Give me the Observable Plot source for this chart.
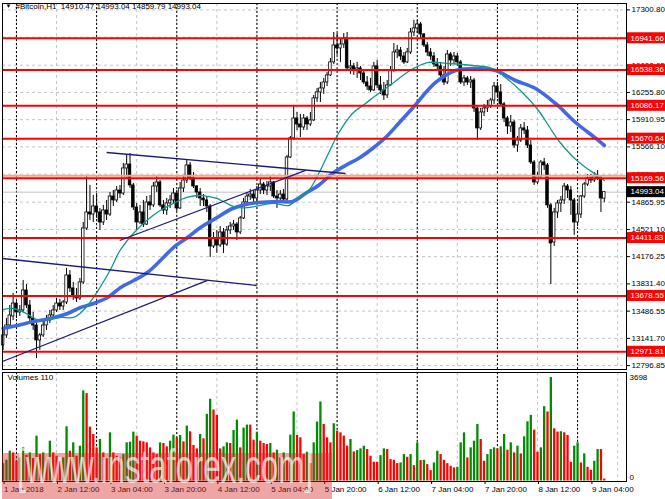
<!DOCTYPE html>
<html><head><meta charset="utf-8">
<script src="https://cdn.jsdelivr.net/npm/d3@7"></script>
<script src="https://cdn.jsdelivr.net/npm/@observablehq/plot@0.6"></script>
<style>
html,body{margin:0;padding:0;background:#fff;}
#wrap{width:665px;height:499px;overflow:hidden;position:relative;}
svg{display:block;}
</style></head><body><div id="wrap"></div>
<script>
// ---------- DATA ----------
const symbolName = "#Bitcoin,H1";
const startTimeUTC = "2018-01-01T20:00:00Z"; // first visible H1 bar
const opens = [13052,13179,13305,13419,13583,13470,13495,13748,13558,13394,13305,13115,13179,13305,13368,13432,13495,13583,13545,13596,13938,13774,13672,13647,13850,14533,14736,14710,14812,14736,14609,14761,14710,14938,14888,15014,14976,15293,15343,15078,14799,14609,14736,14583,14863,14825,15065,15116,14825,14761,14850,14888,14976,14787,15040,15141,15331,15167,15065,14989,14913,14888,14812,14305,14407,14318,14483,14330,14508,14558,14583,14483,14660,14863,14938,14963,14913,15014,15090,15014,15065,15116,14938,14913,14963,14900,15432,15673,15926,15850,15812,15926,15850,15901,16180,16256,16306,16382,16471,16636,16851,16813,16863,16939,16560,16585,16534,16560,16496,16382,16331,16281,16585,16344,16281,16218,16344,16534,16762,16787,16711,16636,16762,17015,17066,17116,16990,16851,16762,16711,16610,16585,16471,16382,16736,16661,16711,16636,16382,16433,16382,16407,16053,15800,16002,16053,16078,16154,16331,16256,16104,15926,15825,15875,15584,15647,15800,15774,15584,15369,15116,15192,15369,15331,14825,14356,14736,14850,14888,15065,15014,14888,14609,14710,14938,15090,15167,15141,15192,15167,14910.47];
const highs = [13242,13394,13558,13710,13621,13558,13875,13824,13621,13470,13343,13204,13368,13432,13495,13558,13647,13634,13621,14027,14001,13850,13774,13900,14609,15192,15078,14951,14976,14787,14825,14888,14989,15014,15065,15078,15356,15458,15483,15103,14850,14825,14888,14938,14951,15116,15192,15141,14888,14913,14951,15040,15014,15116,15205,15394,15369,15243,15078,15040,14963,14938,14837,14483,14508,14558,14533,14558,14609,14634,14609,14685,14913,14989,15027,15014,15065,15167,15116,15128,15205,15128,15014,15014,15027,15458,15698,16091,16002,15976,15976,15951,16002,16218,16306,16382,16433,16509,16686,17015,17002,16939,17002,17015,16661,16623,16636,16585,16534,16458,16433,16636,16661,16458,16382,16407,16585,16876,16851,16825,16762,16813,17066,17167,17167,17142,17002,16889,16813,16762,16686,16636,16585,16787,16762,16762,16749,16661,16471,16458,16458,16433,16078,16053,16104,16154,16180,16382,16382,16356,16129,15951,15964,15901,15698,15850,15875,15825,15647,15394,15243,15394,15420,15356,14850,14787,14888,14938,15103,15090,15065,14913,14825,14951,15116,15217,15217,15243,15268,15192,14993.04];
const lows = [12988,13141,13267,13368,13394,13419,13470,13520,13343,13242,12887,12988,13153,13242,13330,13394,13470,13495,13495,13570,13723,13621,13596,13621,13824,14508,14634,14609,14660,14508,14571,14634,14685,14812,14863,14913,14951,15167,15040,14761,14508,14583,14545,14571,14761,14799,14989,14799,14710,14698,14787,14837,14748,14774,14989,15103,15141,15040,14913,14812,14812,14736,14166,14280,14217,14292,14217,14305,14457,14508,14381,14457,14647,14837,14888,14837,14875,14963,14963,14951,15001,14913,14787,14888,14863,14863,15420,15647,15774,15685,15774,15774,15825,15888,16129,16129,16230,16331,16458,16610,16724,16636,16813,16534,16483,16471,16433,16407,16356,16281,16256,16268,16306,16230,16154,16180,16331,16509,16686,16661,16610,16623,16736,16964,17002,16939,16825,16711,16661,16572,16534,16445,16344,16356,16585,16610,16585,16356,16331,16344,16306,16002,15647,15774,15951,16002,16053,16104,16180,16078,15875,15723,15749,15546,15496,15622,15723,15546,15343,15078,15090,15167,15268,14787,13824,14305,14660,14736,14837,14913,14698,14445,14558,14660,14913,15065,15103,15116,15141,14736,14859.79];
const closes = [13179,13305,13432,13583,13470,13495,13748,13558,13394,13305,13115,13179,13305,13368,13432,13495,13583,13545,13596,13938,13774,13672,13647,13850,14533,14736,14710,14812,14736,14609,14761,14710,14938,14888,15014,14976,15293,15343,15078,14799,14609,14736,14583,14863,14825,15065,15116,14825,14761,14850,14888,14976,14787,15040,15141,15331,15167,15065,14989,14913,14888,14812,14305,14407,14318,14483,14330,14508,14558,14583,14483,14660,14863,14938,14963,14913,15014,15090,15014,15065,15116,14938,14913,14963,14900,15432,15673,15926,15850,15812,15926,15850,15901,16180,16256,16306,16382,16471,16636,16851,16813,16863,16939,16560,16585,16534,16560,16496,16382,16331,16281,16585,16344,16281,16218,16344,16534,16762,16787,16711,16636,16762,17015,17066,17116,16990,16851,16762,16711,16610,16585,16471,16382,16736,16661,16711,16636,16382,16433,16382,16407,16053,15800,16002,16053,16078,16154,16331,16256,16104,15926,15825,15875,15584,15647,15800,15774,15584,15369,15116,15192,15369,15331,14825,14343,14736,14850,14888,15065,15014,14888,14609,14710,14938,15090,15167,15141,15192,15167,14913,14993.04];
const volumes = [621,741,1064,1004,705,825,1184,920,1004,801,1603,944,1004,825,1423,1004,885,705,825,1938,1064,1363,885,1244,3219,3123,1926,1663,1184,1483,1004,789,1722,1004,885,825,944,1363,1387,1746,1603,1423,1399,1363,1184,1004,944,1363,1339,1220,1423,1639,1543,1627,1399,1962,1758,1268,1148,1663,1507,2381,2919,2536,2345,1148,1220,1363,1339,1806,2177,1184,1890,1998,1998,1459,1746,1423,1339,1303,1339,1004,1100,825,1004,741,1639,2465,1627,1543,944,1028,621,1363,2105,2824,2022,1543,1363,2046,1782,1722,1603,1244,1483,1040,1088,1148,1244,1124,885,669,669,908,1148,1124,765,741,621,645,944,849,944,549,1363,729,741,585,370,645,1064,944,741,621,525,466,490,1363,1722,825,1184,1423,2022,1483,705,944,1124,1184,1148,1220,1663,1100,1363,1004,1244,968,1579,2117,2345,1818,1028,1184,2656,2465,3697,1866,1746,1760,1722,1627,669,1244,1363,645,968,490,382,705,1124,1124,70];
const volumeMax = 3698;
const volumesLabel = "Volumes 110";

// moving averages (hours from first bar, price)
const maFastHours  = [0,3,7,10,13,17,21,23,26,29,32,35,39,43,47,51,55,59,61.5,64,67,70,73.5,81,85.5,88.5,91.5,94.5,97.4,100.4,104.6,108.5,112.4,116.6,120.5,123.5,127.4,133.4,140.5,146.5,150.4,155.5,160.3,163.3,166.3,170.5,174.4,178,180];
const maFastValues = [13507,13520,13456,13381,13381,13406,13406,13456,13596,13786,14001,14254,14470,14634,14761,14850,14926,14951,14938,14913,14850,14799,14799,14850,14824,14926,15014,15229,15483,15736,15989,16116,16243,16369,16496,16572,16635,16622,16597,16559,16445,16255,16027,15837,15647,15445,15305,15204,15141];
const maSlowHours  = [0,4.3,9.1,14.2,19.3,23.2,27.1,31.3,35.2,39.1,43.2,47.1,51,55.2,59.1,63.6,68.7,72.6,76.5,82.5,86.7,90.5,94.4,98.6,102.5,106.4,110.6,114.5,118.4,122.5,129.5,135.5,141.4,147.4,153.4,159.4,165.4,171.4,177.5,180];
const maSlowValues = [13267,13305,13355,13393,13456,13532,13583,13659,13786,13874,13976,14128,14292,14419,14546,14660,14786,14837,14862,14875,14875,14976,15077,15229,15331,15419,15546,15685,15862,16052,16382,16534,16559,16534,16407,16306,16116,15875,15673,15584];

// trend lines (hours from first bar, price)
const trendStartHours  = [31, 34.9, -0.2, -0.2];
const trendStartPrices = [15495, 14381, 14153, 12849];
const trendEndHours    = [102.5, 90.6, 75.9, 61.2];
const trendEndPrices   = [15229, 15268, 13811, 13875];

// horizontal levels
const levels = [16941.66, 16538.36, 16086.17, 15670.64, 15169.56, 14411.83, 13678.55, 12971.81];
const salmonLevel = 15200;

// axis ticks (grid at all; the one hidden under the 16941.66 tag carries no label)
const priceTicks = [17300.80, 16955.95, 16600.65, 16255.80, 15910.95, 15566.10, 15221.35, 14865.95, 14521.10, 14176.25, 13831.40, 13486.55, 13141.70, 12796.85];
const priceTickLabelled = [17300.80, 16600.65, 16255.80, 15910.95, 15566.10, 15221.35, 14865.95, 14521.10, 14176.25, 13831.40, 13486.55, 13141.70, 12796.85];
const timeTickHours = [0,16,32,48,64,80,96,112,128,144,160,176];
const timeTickLabels = ["1 Jan 2018","2 Jan 12:00","3 Jan 04:00","3 Jan 20:00","4 Jan 12:00","5 Jan 04:00","5 Jan 20:00","6 Jan 12:00","7 Jan 04:00","7 Jan 20:00","8 Jan 12:00","9 Jan 04:00"];
const gridHours = [4,16,28,40,52,64,76,88,100,112,124,136,148,160,172,184];
const separatorHours = [4,28,52,76,100,124,148,172];
const watermarkText = "[www.instaforex.com]";

// ---------- BUILD ----------
const H = 3600e3;
const t0 = Date.parse(startTimeUTC);
const T = h => new Date(t0 + h * H);
const bars = opens.map((o, i) => ({date: T(i), open: o, high: highs[i], low: lows[i], close: closes[i], volume: volumes[i],
  up: i === 0 ? true : volumes[i] > volumes[i - 1]}));
const maFast = maFastHours.map((h, i) => ({date: T(h), value: maFastValues[i]}));
const maSlow = maSlowHours.map((h, i) => ({date: T(h), value: maSlowValues[i]}));
const trends = trendStartHours.map((h, i) => ({x1: T(h), y1: trendStartPrices[i], x2: T(trendEndHours[i]), y2: trendEndPrices[i]}));
const xDomain = [T(-0.18), T(186.65)];
const last = bars[bars.length - 1];
const FONT = "'Liberation Sans', Arial, sans-serif";
const labelByTime = new Map(timeTickHours.map((h, i) => [+T(h), timeTickLabels[i]]));

const main = Plot.plot({
  width: 665, height: 370,
  marginLeft: 2, marginRight: 39, marginTop: 3, marginBottom: 1,
  style: {fontFamily: FONT, fontSize: "8px", background: "white", overflow: "visible"},
  x: {type: "utc", domain: xDomain, axis: null},
  y: {domain: [12796.85, 17300.80], range: [365.1, 9.4], axis: null},
  marks: [
    Plot.ruleY(priceTicks, {stroke: "#c4c4c4", strokeDasharray: "3,3"}),
    Plot.ruleX(gridHours.map(T), {stroke: "#c4c4c4", strokeDasharray: "3,3"}),
    Plot.ruleX(separatorHours.map(T), {stroke: "#000", strokeDasharray: "2,2"}),
    Plot.ruleY([last.close], {stroke: "#c0c0c0"}),
    Plot.ruleX(bars, {x: "date", y1: "low", y2: "high", stroke: "#000", strokeWidth: 1}),
    Plot.rect(bars.filter(d => d.close >= d.open), {x1: d => new Date(+d.date - 0.38 * H), x2: d => new Date(+d.date + 0.38 * H), y1: "open", y2: "close", fill: "white", stroke: "black", strokeWidth: 0.8}),
    Plot.rect(bars.filter(d => d.close < d.open), {x1: d => new Date(+d.date - 0.38 * H), x2: d => new Date(+d.date + 0.38 * H), y1: "open", y2: "close", fill: "black", stroke: "black", strokeWidth: 0.8}),
    Plot.line(maSlow, {x: "date", y: "value", stroke: "#4169e1", strokeWidth: 3.6, curve: "catmull-rom"}),
    Plot.line(maFast, {x: "date", y: "value", stroke: "#12978a", strokeWidth: 1.3, curve: "catmull-rom"}),
    Plot.ruleY([salmonLevel], {stroke: "#f6a487", strokeWidth: 2}),
    Plot.ruleY(levels, {stroke: "#ff0000", strokeWidth: 2}),
    Plot.link(trends, {x1: "x1", y1: "y1", x2: "x2", y2: "y2", stroke: "#1c1c78", strokeWidth: 1.3}),
    Plot.frame({stroke: "#000"}),
    Plot.axisY(priceTicks, {anchor: "right", tickSize: 3, tickPadding: 2, text: null}),
    Plot.axisY(priceTickLabelled, {anchor: "right", tickSize: 0, tickPadding: 5, tickFormat: d => d.toFixed(2), fontSize: 8, fill: "#000"}),
    Plot.text([`${symbolName}  ${last.open.toFixed(2)} ${last.high.toFixed(2)} ${last.low.toFixed(2)} ${last.close.toFixed(2)}`],
      {frameAnchor: "top-left", dx: 13, dy: 0, fontSize: 8, textAnchor: "start", fill: "#000"}),
    Plot.text(["\u25BC"], {frameAnchor: "top-left", dx: 3, dy: 0, fontSize: 6, textAnchor: "start", fill: "#000"})
  ]
});

const vol = Plot.plot({
  width: 665, height: 129,
  marginLeft: 2, marginRight: 39, marginTop: 2, marginBottom: 18,
  style: {fontFamily: FONT, fontSize: "8px", background: "white", overflow: "visible"},
  x: {type: "utc", domain: xDomain, axis: null},
  y: {domain: [0, volumeMax], range: [110.5, 7], axis: null},
  marks: [
    Plot.ruleX(gridHours.map(T), {stroke: "#c4c4c4", strokeDasharray: "3,3"}),
    Plot.ruleX(separatorHours.map(T), {stroke: "#000", strokeDasharray: "2,2"}),
    Plot.ruleX(bars.filter(d => d.up), {x: "date", y1: 0, y2: "volume", stroke: "#008c00", strokeWidth: 2.3}),
    Plot.ruleX(bars.filter(d => !d.up), {x: "date", y1: 0, y2: "volume", stroke: "#ff0000", strokeWidth: 2.3}),
    Plot.frame({stroke: "#000"}),
    Plot.text([volumesLabel], {frameAnchor: "top-left", dx: 5, dy: 2, fontSize: 8, textAnchor: "start", fill: "#000"}),
    Plot.text([volumeMax], {y: d => d, text: d => String(d), frameAnchor: "right", dx: 3, textAnchor: "start", fontSize: 8, fill: "#000"}),
    Plot.text([0], {y: d => d, text: d => String(d), frameAnchor: "right", dx: 3, dy: -4, textAnchor: "start", fontSize: 8, fill: "#000"}),
    Plot.axisX(timeTickHours.map(T), {anchor: "bottom", tickSize: 3, tickPadding: 2, textAnchor: "start", dx: 1, fontSize: 8, fill: "#000", tickFormat: d => labelByTime.get(+d)})
  ]
});

const wrap = document.getElementById("wrap");
wrap.appendChild(main);
wrap.appendChild(vol);

// level labels on the right price scale
const ys = main.scale("y");
const ms = d3.select(main);
const addLabel = (v, color) => {
  const y = ys.apply(v);
  ms.append("rect").attr("x", 627).attr("y", y - 5.5).attr("width", 38).attr("height", 11).attr("fill", color);
  ms.append("text").attr("x", 630.5).attr("y", y).attr("dy", "0.35em").attr("fill", "#fff")
    .attr("text-anchor", "start").attr("font-size", 8).attr("font-family", FONT).text(v.toFixed(2));
};
levels.forEach(v => addLabel(v, "#ff0000"));
addLabel(last.close, "#000");

// watermark
const vs = d3.select(vol);
vs.append("rect").attr("x", 2).attr("y", 83).attr("width", 330).attr("height", 46).attr("fill", "rgba(215,40,40,0.42)");
vs.append("text").attr("x", 17).attr("y", 113).attr("font-size", 49).attr("font-family", FONT)
  .attr("text-anchor", "start").attr("fill", "rgba(255,255,255,0.66)")
  .attr("textLength", 296).attr("lengthAdjust", "spacingAndGlyphs").text(watermarkText);
</script></body></html>
